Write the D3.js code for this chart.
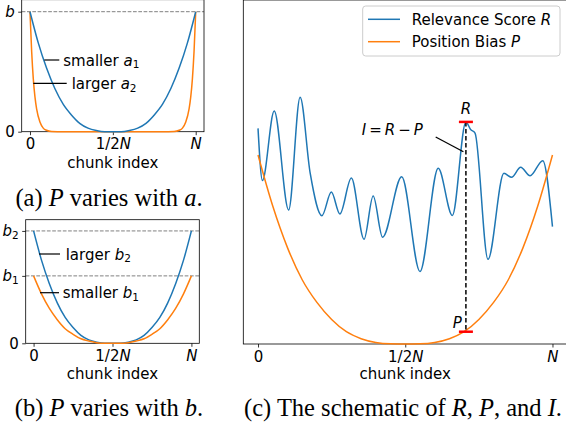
<!DOCTYPE html>
<html>
<head>
<meta charset="utf-8">
<script src="https://cdn.jsdelivr.net/npm/d3@7"></script>
<style>
  body { margin: 0; background: #fff; }
  svg text { font-family: "DejaVu Sans", sans-serif; }
  svg text.cap { font-family: "Liberation Serif", "Times New Roman", serif; }
</style>
</head>
<body>
<svg id="fig" width="566" height="428"></svg>
<script>
// ---- data ----
const xTicks = [0, 0.5, 1];
const xTickLabels = [[["0", ""]], [["1/2", ""], ["N", "i"]], [["N", "i"]]];

// (a) P varies with a
const shapeT = [0, .05, .1, .15, .2, .25, .3, .35, .4, .45, .5, .55, .6, .65, .7, .75, .8, .85, .9, .95, 1];
const biasA1 = [1, .74, .53, .36, .23, .14, .07, .03, .01, 0, 0, 0, .01, .03, .07, .14, .23, .36, .53, .74, 1];
const steepT = [0, .01, .02, .03, .04, .06, .08, .1, .13, .2, .5, .8, .87, .9, .92, .94, .96, .97, .98, .99, 1];
const biasA2 = [1, .67, .44, .29, .19, .08, .03, .012, .002, 0, 0, 0, .002, .012, .03, .08, .19, .29, .44, .67, 1];
const levelsA = [1];
const yTicksA = [0, 1];
const yTickLabelsA = [[["0", ""]], [["b", "i"]]];

// (b) P varies with b
const biasB2 = [1, .74, .53, .36, .23, .14, .07, .03, .01, 0, 0, 0, .01, .03, .07, .14, .23, .36, .53, .74, 1];
const biasB1 = [.6, .44, .31, .21, .13, .08, .04, .02, .005, 0, 0, 0, .005, .02, .04, .08, .13, .21, .31, .44, .6];
const levelsB = [1, 0.6];
const yTicksB = [0, 0.6, 1];
const yTickLabelsB = [[["0", ""]], [["b", "i"], ["1", "s"]], [["b", "i"], ["2", "s"]]];

// (c) relevance score R and position bias P
const relT = [0, .015, .055, .104, .143, .177, .217, .249, .278, .317, .36, .391, .423, .488, .55,
  .612, .66, .706, .722, .737, .781, .835, .861, .892, .924, .967, 1];
const relR = [1.141, .865, 1.233, .709, 1.305, .905, .679, .804, .688, .878, .554, .783, .565, .885, .384,
  .93, .68, 1.175, 1.135, 1.116, .448, .903, .882, .935, .89, .97, .621];
const biasP = [1, .73, .51, .34, .22, .13, .065, .028, .008, .001, 0, .001, .008, .028, .065, .13, .22, .34, .51, .73, 1];
const markT = 0.706;
const markR = 1.175;
const markP = 0.065;

const blue = "#1f77b4";
const orange = "#ff7f0e";

const svg = d3.select("#fig");

function richText(sel, parts) {
  sel.selectAll("tspan").remove();
  parts.forEach(([str, style]) => {
    const ts = sel.append("tspan").text(str);
    if (style === "i") ts.attr("font-style", "italic");
    if (style === "s") ts.attr("font-size", "0.7em").attr("dy", "0.28em");
  });
}

function curve(g, x, y, ts, vs, color) {
  const pts = ts.map((t, i) => [t, vs[i]]);
  g.append("path")
    .datum(pts)
    .attr("fill", "none")
    .attr("stroke", color)
    .attr("stroke-width", 1.5)
    .attr("d", d3.line().x(d => x(d[0])).y(d => y(d[1])).curve(d3.curveMonotoneX));
}

function panel(opt) {
  const g = svg.append("g");
  const x = d3.scaleLinear().domain([-0.05, 1.05]).range(opt.xRange);
  const y = d3.scaleLinear().domain(opt.yDomain).range(opt.yRange);

  // dashed reference levels
  (opt.levels || []).forEach(v => {
    g.append("line")
      .attr("x1", opt.xRange[0]).attr("x2", opt.xRange[1])
      .attr("y1", y(v)).attr("y2", y(v))
      .attr("stroke", "#808080").attr("stroke-width", 1)
      .attr("stroke-dasharray", "3.7,1.6");
  });

  // axes
  const xa = g.append("g")
    .attr("transform", `translate(0,${opt.yRange[0]})`)
    .call(d3.axisBottom(x).tickValues(xTicks).tickSize(3.5).tickPadding(3.5).tickFormat(() => ""));
  xa.selectAll("text").each(function (d, i) { richText(d3.select(this), xTickLabels[i]); });

  if (opt.yTicks) {
    const ya = g.append("g")
      .attr("transform", `translate(${opt.xRange[0]},0)`)
      .call(d3.axisLeft(y).tickValues(opt.yTicks).tickSize(3.5).tickPadding(3.5).tickFormat(() => ""));
    ya.selectAll("text").each(function (d, i) { richText(d3.select(this), opt.yTickLabels[i]); });
  }

  g.selectAll(".domain").remove();
  g.selectAll(".tick line").attr("stroke", "#000").attr("stroke-width", 0.8);
  g.selectAll(".tick text").attr("font-size", 15).attr("fill", "#000")
    .attr("font-family", "DejaVu Sans");

  g.append("rect")
    .attr("x", opt.xRange[0]).attr("y", opt.yRange[1])
    .attr("width", opt.xRange[1] - opt.xRange[0])
    .attr("height", opt.yRange[0] - opt.yRange[1])
    .attr("fill", "none").attr("stroke", "#000").attr("stroke-width", 0.8);

  g.append("text")
    .attr("x", (opt.xRange[0] + opt.xRange[1]) / 2)
    .attr("y", opt.xLabelY)
    .attr("text-anchor", "middle")
    .attr("font-size", 15)
    .text("chunk index");

  g.append("text")
    .attr("class", "cap")
    .attr("x", opt.capX)
    .attr("y", opt.capY)
    .attr("text-anchor", "middle")
    .attr("font-size", 24.5)
    .call(s => richText(s, opt.caption));

  return { g, x, y };
}

// ---- (a) ----
const pa = panel({
  xRange: [21.7, 204], yDomain: [0, 1.1], yRange: [131.7, -0.3],
  levels: levelsA, yTicks: yTicksA, yTickLabels: yTickLabelsA,
  xLabelY: 168, capX: 109, capY: 206,
  caption: [["(a) ", ""], ["P", "i"], [" varies with ", ""], ["a", "i"], [".", ""]]
});
curve(pa.g, pa.x, pa.y, steepT, biasA2, orange);
curve(pa.g, pa.x, pa.y, shapeT, biasA1, blue);

function callout(g, x1, x2, yy, tx, parts) {
  g.append("line").attr("x1", x1).attr("x2", x2).attr("y1", yy).attr("y2", yy)
    .attr("stroke", "#000").attr("stroke-width", 1.2);
  g.append("text").attr("x", tx).attr("y", yy + 5.5).attr("font-size", 15)
    .call(s => richText(s, parts));
}
callout(pa.g, 44.3, 59.3, 60, 63.3, [["smaller ", ""], ["a", "i"], ["1", "s"]]);
callout(pa.g, 33.3, 66.7, 83.3, 71.7, [["larger ", ""], ["a", "i"], ["2", "s"]]);

// ---- (b) ----
const pb = panel({
  xRange: [25.7, 199.3], yDomain: [0, 1.1], yRange: [343.3, 219.7],
  levels: levelsB, yTicks: yTicksB, yTickLabels: yTickLabelsB,
  xLabelY: 378.5, capX: 109, capY: 416,
  caption: [["(b) ", ""], ["P", "i"], [" varies with ", ""], ["b", "i"], [".", ""]]
});
curve(pb.g, pb.x, pb.y, shapeT, biasB2, blue);
curve(pb.g, pb.x, pb.y, shapeT, biasB1, orange);
callout(pb.g, 39, 60, 254, 65.7, [["larger ", ""], ["b", "i"], ["2", "s"]]);
callout(pb.g, 40, 59, 292.7, 62.7, [["smaller ", ""], ["b", "i"], ["1", "s"]]);

// ---- (c) ----
const pc = panel({
  xRange: [243.3, 567.2], yDomain: [0, 1.82], yRange: [344, 0],
  xLabelY: 379, capX: 403, capY: 416,
  caption: [["(c) The schematic of ", ""], ["R", "i"], [", ", ""], ["P", "i"], [", and ", ""], ["I", "i"], [".", ""]]
});
curve(pc.g, pc.x, pc.y, relT, relR, blue);
curve(pc.g, pc.x, pc.y, shapeT, biasP, orange);

const mx = pc.x(markT);
pc.g.append("line")
  .attr("x1", mx).attr("x2", mx).attr("y1", pc.y(markR)).attr("y2", pc.y(markP))
  .attr("stroke", "#000").attr("stroke-width", 1.5).attr("stroke-dasharray", "4.5,2.5");
[markR, markP].forEach(v => {
  pc.g.append("line")
    .attr("x1", mx - 7).attr("x2", mx + 7).attr("y1", pc.y(v)).attr("y2", pc.y(v))
    .attr("stroke", "#ff0000").attr("stroke-width", 2.5);
});
pc.g.append("text").attr("x", mx).attr("y", pc.y(markR) - 8).attr("text-anchor", "middle")
  .attr("font-size", 15).attr("font-style", "italic").text("R");
pc.g.append("text").attr("x", mx - 4).attr("y", pc.y(markP) - 4).attr("text-anchor", "end")
  .attr("font-size", 15).attr("font-style", "italic").text("P");

// I = R - P annotation
const ann = pc.g.append("text").attr("x", 361.7).attr("y", 135.4).attr("font-size", 15);
[["I", "i"], ["=", ""], ["R", "i"], ["\u2212", ""], ["P", "i"]].forEach(([s, st], i) => {
  const t = ann.append("tspan").text(s).attr("dx", i ? 3 : 0);
  if (st === "i") t.attr("font-style", "italic");
});
pc.g.append("line").attr("x1", 435.7).attr("y1", 137).attr("x2", mx - 2.5).attr("y2", 151.7)
  .attr("stroke", "#000").attr("stroke-width", 1.3);

// legend
const lg = pc.g.append("g");
lg.append("rect").attr("x", 362.7).attr("y", 6).attr("width", 197.3).attr("height", 50)
  .attr("rx", 3).attr("fill", "#fff").attr("fill-opacity", 0.8)
  .attr("stroke", "#cccccc").attr("stroke-width", 1);
const legendItems = [
  { color: blue, parts: [["Relevance Score ", ""], ["R", "i"]] },
  { color: orange, parts: [["Position Bias ", ""], ["P", "i"]] }
];
legendItems.forEach((it, i) => {
  const ly = 19.3 + i * 22.4;
  lg.append("line").attr("x1", 368).attr("x2", 400).attr("y1", ly).attr("y2", ly)
    .attr("stroke", it.color).attr("stroke-width", 1.5);
  lg.append("text").attr("x", 411.7).attr("y", ly + 5.3).attr("font-size", 15)
    .call(s => richText(s, it.parts));
});
</script>
</body>
</html>
